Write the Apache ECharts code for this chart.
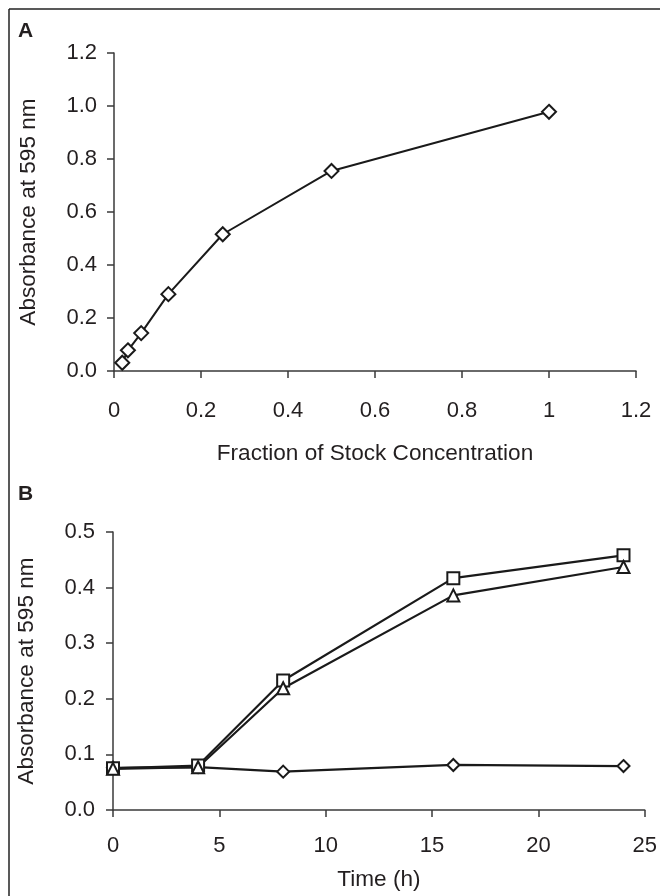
<!DOCTYPE html>
<html>
<head>
    <meta charset="utf-8">
    <title>Absorbance at 595 nm</title>
    <script src="https://cdn.jsdelivr.net/npm/echarts@6/dist/echarts.min.js"></script>
    <style>
        html, body { margin: 0; padding: 0; background: #fff; }
        #chart { width: 660px; height: 896px; }
    </style>
</head>
<body>
<div id="chart"></div>
<script>
    // panel A: dilution series
    var fractionStock = [0.019, 0.032, 0.0625, 0.125, 0.25, 0.5, 1];
    var absorbanceA = [0.031, 0.078, 0.143, 0.29, 0.516, 0.755, 0.978];

    // panel B: time course
    var timeHours = [0, 4, 8, 16, 24];
    var absDiamond = [0.076, 0.077, 0.069, 0.081, 0.079];
    var absSquare = [0.075, 0.080, 0.233, 0.417, 0.458];
    var absTriangle = [0.074, 0.077, 0.219, 0.386, 0.437];

    var ink = '#231f20';
    var fontFam = '"Liberation Sans", Arial, sans-serif';

    function pairs(xs, ys) {
        return xs.map(function (x, i) { return [x, ys[i]]; });
    }

    function axisStyle(extra) {
        var base = {
            type: 'value',
            axisLine: { show: true, onZero: false, lineStyle: { color: '#3a3a3a', width: 1.5 } },
            axisTick: { show: true, inside: false, length: 7, lineStyle: { color: '#3a3a3a', width: 1.5 } },
            splitLine: { show: false },
            axisLabel: { color: ink, fontSize: 22, fontFamily: fontFam },
            nameTextStyle: { color: ink, fontSize: 22.6, fontFamily: fontFam },
            nameLocation: 'middle'
        };
        for (var k in extra) {
            if (typeof extra[k] === 'object' && base[k] && !Array.isArray(extra[k])) {
                base[k] = Object.assign({}, base[k], extra[k]);
            } else {
                base[k] = extra[k];
            }
        }
        return base;
    }

    function lineSeries(xi, yi, data, symbol, size, width) {
        return {
            type: 'line',
            xAxisIndex: xi,
            yAxisIndex: yi,
            data: data,
            symbol: symbol,
            symbolSize: size,
            showSymbol: true,
            animation: false,
            lineStyle: { color: '#1a1a1a', width: width },
            itemStyle: { color: '#fff', borderColor: '#1a1a1a', borderWidth: 2 },
            emphasis: { disabled: true }
        };
    }

    var chart = echarts.init(document.getElementById('chart'), null, { renderer: 'canvas' });
    chart.setOption({
        backgroundColor: '#fff',
        animation: false,
        grid: [
            { left: 114, right: 24, top: 53, bottom: 525 },
            { left: 113, right: 15, top: 532, bottom: 86 }
        ],
        xAxis: [
            axisStyle({
                gridIndex: 0, min: 0, max: 1.2, interval: 0.2,
                name: 'Fraction of Stock Concentration', nameGap: 71,
                axisLabel: { margin: 29 }
            }),
            axisStyle({
                gridIndex: 1, min: 0, max: 25, interval: 5,
                name: 'Time (h)', nameGap: 58,
                axisLabel: { margin: 25 }
            })
        ],
        yAxis: [
            axisStyle({
                gridIndex: 0, min: 0, max: 1.2, interval: 0.2,
                name: 'Absorbance at 595 nm', nameGap: 74,
                axisLabel: { margin: 17, formatter: function (v) { return v.toFixed(1); } }
            }),
            axisStyle({
                gridIndex: 1, min: 0, max: 0.5, interval: 0.1,
                name: 'Absorbance at 595 nm', nameGap: 75,
                axisLabel: { margin: 18, formatter: function (v) { return v.toFixed(1); } }
            })
        ],
        series: [
            lineSeries(0, 0, pairs(fractionStock, absorbanceA), 'diamond', 14, 2),
            lineSeries(1, 1, pairs(timeHours, absDiamond), 'diamond', 12, 2.2),
            lineSeries(1, 1, pairs(timeHours, absSquare), 'rect', 12, 2.2),
            lineSeries(1, 1, pairs(timeHours, absTriangle), 'triangle', 12, 2.2)
        ],
        graphic: [
            { type: 'line', shape: { x1: 9, y1: 9, x2: 660, y2: 9 }, style: { stroke: '#222', lineWidth: 1.5 } },
            { type: 'line', shape: { x1: 9, y1: 9, x2: 9, y2: 896 }, style: { stroke: '#222', lineWidth: 1.5 } },
            { type: 'text', left: 18, top: 21, style: { text: 'A', font: 'bold 21px ' + fontFam, fill: ink } },
            { type: 'text', left: 18, top: 484, style: { text: 'B', font: 'bold 21px ' + fontFam, fill: ink } }
        ]
    });
</script>
</body>
</html>
